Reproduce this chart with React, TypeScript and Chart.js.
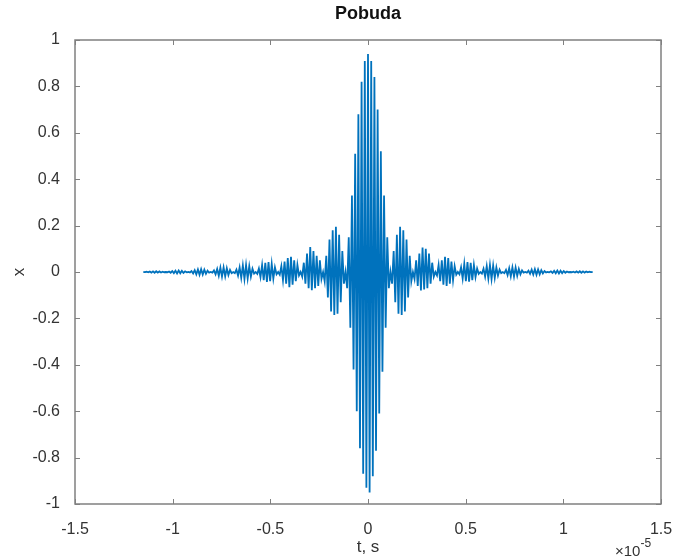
import React, { useEffect, useRef } from "react";
import { Chart, registerables } from "chart.js";

Chart.register(...registerables);

// ---- text ----
const chartTitle = "Pobuda";
const xAxisLabel = "t, s";
const yAxisLabel = "x";
const xExponentBase = "×10";
const xExponent = "-5";

// ---- ticks (x in units of 1e-5 s) ----
const xTickValues = [-1.5, -1, -0.5, 0, 0.5, 1, 1.5];
const yTickValues = [-1, -0.8, -0.6, -0.4, -0.2, 0, 0.2, 0.4, 0.6, 0.8, 1];

// ---- sample time base (units of 1e-5 s) ----
const sampleStart = -1.15;
const sampleStep = 0.0082143;

// ---- signal extrema ----
// main lobe: carrier peaks from the left null to the right null
const mainLobe = [
  -0.07, 0.15, -0.24, 0.33, -0.42, 0.51, -0.6, 0.68, -0.76, 0.82, -0.87, 0.91, -0.93,
  0.94,
  -0.95, 0.91, -0.88, 0.84, -0.77, 0.7, -0.61, 0.52, -0.43, 0.33, -0.24, 0.15, -0.07,
];

// side lobes right of centre, inner (1) to outer (9), each in time order
const rightLobe1 = [-0.05, 0.09, -0.13, 0.16, -0.18, 0.195, -0.185, 0.18, -0.17, 0.14, -0.11, 0.07, -0.04];
const rightLobe2 = [-0.03, 0.05, -0.06, 0.08, -0.08, 0.105, -0.075, 0.1, -0.07, 0.08, -0.05, 0.04, -0.02];
const rightLobe3 = [-0.015, 0.03, -0.04, 0.05, -0.055, 0.065, -0.06, 0.06, -0.05, 0.045, -0.035, 0.025, -0.012];
const rightLobe4 = [-0.01, 0.02, -0.028, 0.035, -0.04, 0.043, -0.042, 0.04, -0.035, 0.03, -0.022, 0.015, -0.008];
const rightLobe5 = [-0.007, 0.014, -0.02, 0.025, -0.028, 0.03, -0.03, 0.028, -0.025, 0.02, -0.015, 0.01, -0.005];
const rightLobe6 = [-0.005, 0.009, -0.013, 0.016, -0.019, 0.02, -0.02, 0.019, -0.016, 0.013, -0.01, 0.007, -0.003];
const rightLobe7 = [-0.003, 0.006, -0.008, 0.01, -0.011, 0.012, -0.012, 0.011, -0.01, 0.008, -0.006, 0.004, -0.002];
const rightLobe8 = [-0.0015, 0.003, -0.004, 0.005, -0.0055, 0.006, -0.006, 0.0055, -0.005, 0.004, -0.003, 0.002, -0.001];
const rightLobe9 = [-0.001, 0.0015, -0.002, 0.0025, -0.003, 0.003, -0.003, 0.003, -0.0025, 0.002, -0.0015, 0.001, -0.0005];

// side lobes left of centre, inner (1) to outer (9), each in time order
const leftLobe1 = [-0.04, 0.07, -0.11, 0.14, -0.17, 0.18, -0.185, 0.195, -0.18, 0.16, -0.13, 0.09, -0.05];
const leftLobe2 = [-0.02, 0.04, -0.05, 0.08, -0.07, 0.108, -0.078, 0.09, -0.07, 0.07, -0.06, 0.05, -0.03];
const leftLobe3 = [-0.012, 0.025, -0.035, 0.045, -0.05, 0.06, -0.065, 0.065, -0.055, 0.05, -0.04, 0.03, -0.015];
const leftLobe4 = [-0.008, 0.015, -0.022, 0.03, -0.035, 0.04, -0.043, 0.043, -0.04, 0.035, -0.028, 0.02, -0.01];
const leftLobe5 = [-0.005, 0.01, -0.015, 0.02, -0.025, 0.028, -0.03, 0.03, -0.028, 0.025, -0.02, 0.014, -0.007];
const leftLobe6 = [-0.003, 0.007, -0.01, 0.013, -0.016, 0.019, -0.02, 0.02, -0.019, 0.016, -0.013, 0.009, -0.005];
const leftLobe7 = [-0.002, 0.004, -0.006, 0.008, -0.01, 0.011, -0.012, 0.012, -0.011, 0.01, -0.008, 0.006, -0.003];
const leftLobe8 = [-0.001, 0.002, -0.003, 0.004, -0.005, 0.0055, -0.006, 0.006, -0.0055, 0.005, -0.004, 0.003, -0.0015];
const leftLobe9 = [-0.0005, 0.001, -0.0015, 0.002, -0.0025, 0.003, -0.003, 0.003, -0.003, 0.0025, -0.002, 0.0015, -0.001];

const rightLobes = [rightLobe1, rightLobe2, rightLobe3, rightLobe4, rightLobe5, rightLobe6, rightLobe7, rightLobe8, rightLobe9];
const leftLobes = [leftLobe1, leftLobe2, leftLobe3, leftLobe4, leftLobe5, leftLobe6, leftLobe7, leftLobe8, leftLobe9];

// nulls between lobes are 0
function buildSamples(): number[] {
  const s: number[] = [0];
  for (let n = leftLobes.length - 1; n >= 0; n--) {
    s.push(...leftLobes[n], 0);
  }
  s.push(...mainLobe, 0);
  for (const lobe of rightLobes) s.push(...lobe, 0);
  return s;
}

const LINE_COLOR = "rgb(0,114,189)";
const AXIS_COLOR = "#808080";
const TEXT_COLOR = "#333333";
const FONT_FAMILY = "'Liberation Sans', Arial, Helvetica, sans-serif";

const axesBoxPlugin = {
  id: "axesBox",
  afterDatasetsDraw(chart: any) {
    const { ctx, chartArea } = chart;
    const { left, right, top, bottom } = chartArea;
    const xs = chart.scales.x;
    const ys = chart.scales.y;
    const tl = 5;
    ctx.save();
    ctx.strokeStyle = AXIS_COLOR;
    ctx.lineWidth = 1.5;
    ctx.beginPath();
    ctx.rect(left, top, right - left, bottom - top);
    ctx.stroke();
    ctx.lineWidth = 1;
    ctx.beginPath();
    for (const v of xTickValues) {
      const px = Math.round(xs.getPixelForValue(v)) + 0.5;
      ctx.moveTo(px, bottom);
      ctx.lineTo(px, bottom - tl);
      ctx.moveTo(px, top);
      ctx.lineTo(px, top + tl);
    }
    for (const v of yTickValues) {
      const py = Math.round(ys.getPixelForValue(v)) + 0.5;
      ctx.moveTo(left, py);
      ctx.lineTo(left + tl, py);
      ctx.moveTo(right, py);
      ctx.lineTo(right - tl, py);
    }
    ctx.stroke();
    ctx.restore();
  },
  afterDraw(chart: any) {
    const { ctx, chartArea } = chart;
    const cx = (chartArea.left + chartArea.right) / 2;
    const cy = (chartArea.top + chartArea.bottom) / 2;
    ctx.save();
    ctx.fillStyle = "#111";
    ctx.font = `bold 18px ${FONT_FAMILY}`;
    ctx.textAlign = "center";
    ctx.textBaseline = "middle";
    ctx.fillText(chartTitle, cx, 14);

    ctx.fillStyle = TEXT_COLOR;
    ctx.font = `17px ${FONT_FAMILY}`;
    ctx.fillText(xAxisLabel, cx, 547);

    ctx.save();
    ctx.translate(19, cy);
    ctx.rotate(-Math.PI / 2);
    ctx.fillText(yAxisLabel, 0, 0);
    ctx.restore();

    ctx.textAlign = "left";
    ctx.textBaseline = "alphabetic";
    ctx.font = `15px ${FONT_FAMILY}`;
    ctx.fillText(xExponentBase, 615, 556);
    const w = ctx.measureText(xExponentBase).width;
    ctx.font = `12px ${FONT_FAMILY}`;
    ctx.fillText(xExponent, 615 + w, 547);
    ctx.restore();
  },
};

export default function App() {
  const canvasRef = useRef<HTMLCanvasElement | null>(null);

  useEffect(() => {
    const canvas = canvasRef.current;
    if (!canvas) return;
    const samples = buildSamples();
    const points = samples.map((y, i) => ({ x: sampleStart + i * sampleStep, y }));

    const chart = new Chart(canvas, {
      type: "line",
      data: {
        datasets: [
          {
            data: points,
            borderColor: LINE_COLOR,
            borderWidth: 1.8,
            pointRadius: 0,
            tension: 0,
            fill: false,
          },
        ],
      },
      options: {
        responsive: false,
        animation: false,
        devicePixelRatio: 1,
        parsing: false as any,
        normalized: true,
        layout: { padding: { left: 0, right: 15, top: 40, bottom: 0 } },
        plugins: {
          legend: { display: false },
          title: { display: false },
          tooltip: { enabled: false },
        },
        scales: {
          x: {
            type: "linear",
            min: -1.5,
            max: 1.5,
            grid: { display: false },
            border: { display: false },
            afterBuildTicks: (s: any) => {
              s.ticks = xTickValues.map((v) => ({ value: v }));
            },
            afterFit: (s: any) => {
              s.height = 54;
              s.paddingLeft = 0;
              s.paddingRight = 0;
            },
            ticks: {
              autoSkip: false,
              maxRotation: 0,
              padding: 8,
              color: TEXT_COLOR,
              font: { family: FONT_FAMILY, size: 16 },
              callback: (v: any) => String(Number(Number(v).toFixed(2))),
            },
          },
          y: {
            type: "linear",
            min: -1,
            max: 1,
            grid: { display: false },
            border: { display: false },
            afterBuildTicks: (s: any) => {
              s.ticks = yTickValues.map((v) => ({ value: v }));
            },
            afterFit: (s: any) => {
              s.width = 75;
              s.paddingTop = 0;
              s.paddingBottom = 0;
            },
            ticks: {
              autoSkip: false,
              padding: 7,
              color: TEXT_COLOR,
              font: { family: FONT_FAMILY, size: 16 },
              callback: (v: any) => String(Number(Number(v).toFixed(2))),
            },
          },
        },
      },
      plugins: [axesBoxPlugin],
    });

    return () => chart.destroy();
  }, []);

  return (
    <div style={{ position: "absolute", left: 0, top: 0, width: 676, height: 558, background: "#fff" }}>
      <canvas ref={canvasRef} width={676} height={558} style={{ display: "block" }} />
    </div>
  );
}
